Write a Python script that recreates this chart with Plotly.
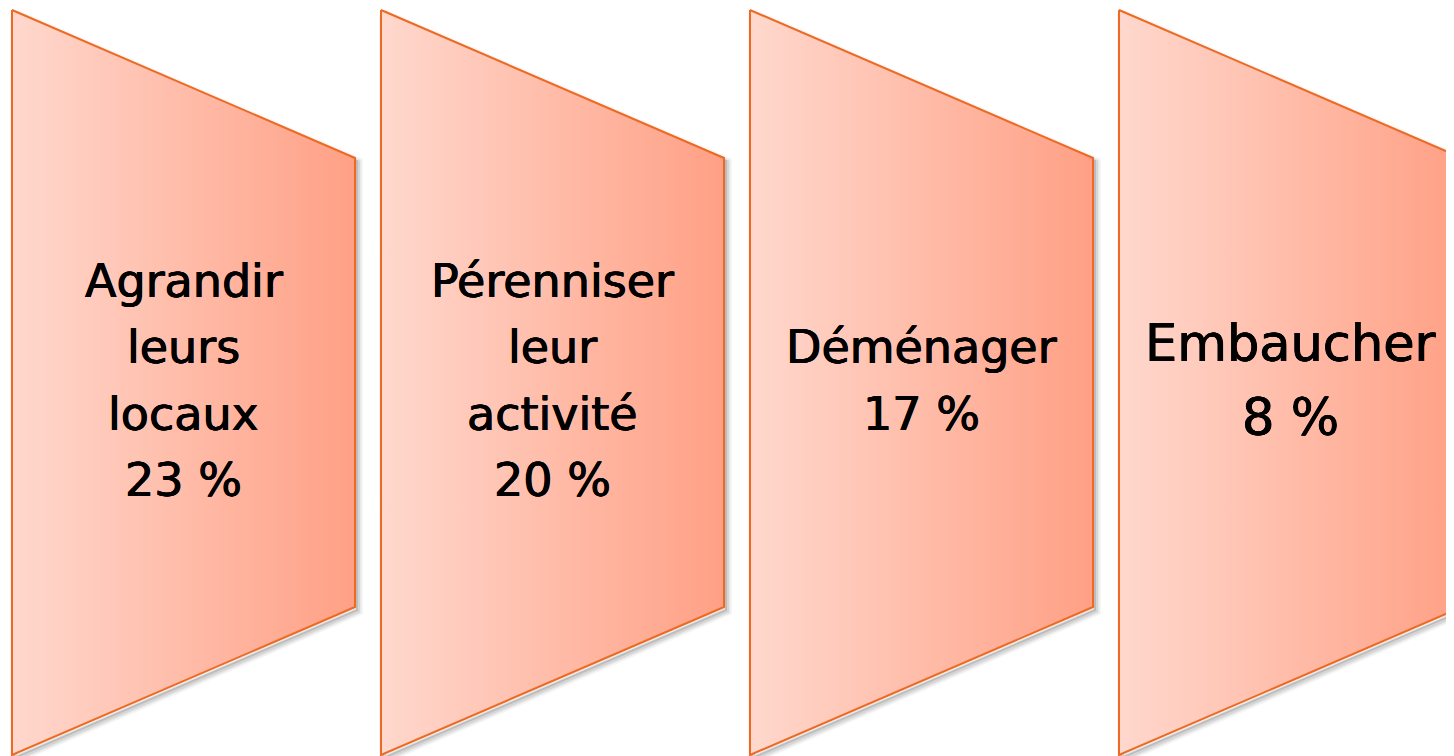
import plotly.graph_objects as go

# ---- data ----
categories = ["Agrandir leurs locaux", "Pérenniser leur activité", "Déménager", "Embaucher"]
label_lines = [["Agrandir", "leurs", "locaux"],
               ["Pérenniser", "leur", "activité"],
               ["Déménager"],
               ["Embaucher"]]
values = [23, 20, 17, 8]

# ---- style / layout ----
W, H = 1454, 756
PAGE_MARGIN = 8  # default body margin of the html page
left0, pitch, width = 12, 369, 343
top, bottom = 10, 755
inner_top, inner_bottom = 158, 607
font_sizes = [46, 46, 46, 51]
line_gaps = [66.5, 66.5, 66.5, 74]
c_left, c_right = "#FFD8CD", "#FFA085"
edge = "#EE6A22"
text_shadow = "0.5px 0 0 #000, -0.5px 0 0 #000, 0 0.4px 0 #000"

fig = go.Figure()

for i, (cat, lines, v) in enumerate(zip(categories, label_lines, values)):
    x0 = left0 + i * pitch
    x1 = x0 + width
    xs = [x0, x1, x1, x0, x0]
    ys = [top, inner_top, inner_bottom, bottom, top]
    # soft shadow
    for lw, op, dx, dy in [(10, 0.035, 3, 4), (7, 0.05, 3, 4), (4, 0.08, 3, 4), (2, 0.12, 2, 3)]:
        fig.add_trace(go.Scatter(
            x=[x + dx for x in xs], y=[y + dy for y in ys], mode="lines",
            line=dict(color=f"rgba(0,0,0,{op})", width=lw),
            fill="toself", fillcolor="rgba(0,0,0,0)",
            hoverinfo="skip", showlegend=False))
    fig.add_trace(go.Scatter(
        x=xs, y=ys, mode="lines", fill="toself",
        fillgradient=dict(type="horizontal",
                          colorscale=[[0, c_left], [1, c_right]]),
        line=dict(color=edge, width=2),
        name=cat, hoverinfo="name", showlegend=False))

    text_lines = lines + [f"{v} %"]
    n = len(text_lines)
    cx = (x0 + x1) / 2
    cy = (top + bottom) / 2 - 2
    for k, t in enumerate(text_lines):
        y = cy + (k - (n - 1) / 2) * line_gaps[i]
        fig.add_annotation(x=cx, y=y, text=t, showarrow=False,
                           xanchor="center", yanchor="middle",
                           font=dict(family="DejaVu Sans", size=font_sizes[i],
                                     color="black", shadow=text_shadow))

fig.update_layout(
    width=W, height=H, margin=dict(l=0, r=0, t=0, b=0),
    paper_bgcolor="white", plot_bgcolor="white",
    xaxis=dict(range=[PAGE_MARGIN, W + PAGE_MARGIN], visible=False, fixedrange=True),
    yaxis=dict(range=[H + PAGE_MARGIN, PAGE_MARGIN], visible=False, fixedrange=True),
    showlegend=False,
)
fig.write_html("out.html")
